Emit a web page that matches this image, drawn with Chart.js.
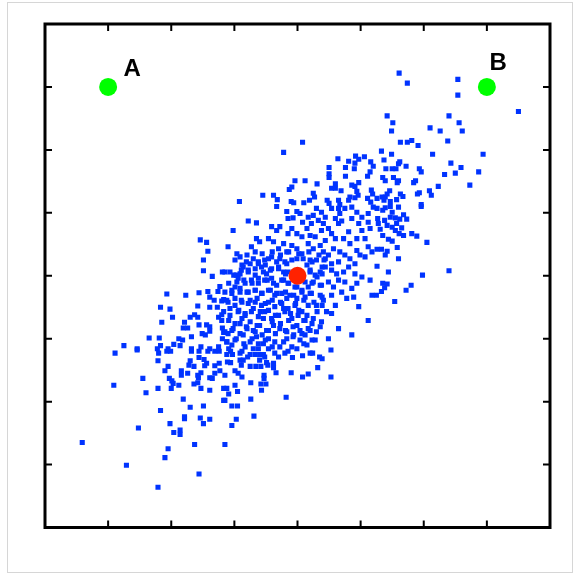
<!DOCTYPE html>
<html>
<head>
<meta charset="utf-8">
<script src="https://cdn.jsdelivr.net/npm/chart.js@4.4.1/dist/chart.umd.min.js"></script>
<style>
    html, body { margin: 0; padding: 0; background: #fff; }
    #wrap { position: relative; width: 574px; height: 573px; }
    #frame {
        position: absolute; left: 7px; top: 2px; width: 566px; height: 571px;
        border: 1px solid #d6d6d6; box-sizing: border-box; pointer-events: none;
    }
</style>
</head>
<body>
<div id="wrap">
    <canvas id="scatterChart"></canvas>
    <div id="frame"></div>
</div>
<script>
/* Correlated 2-D sample cloud with its mean (red) and two reference points A, B (green). */

// Sample cloud as [x, y] pairs.
var cloudPoints = [
    [0.08,2.12],[-0.22,1.96],[0.64,1.86],[0.81,1.82],[0.92,1.90],[0.97,1.85],[1.06,1.89],[1.16,1.81],[0.91,1.79],[1.20,1.74],
    [0.50,1.72],[0.76,1.72],[0.90,1.70],[1.15,1.65],[0.50,1.62],[0.50,1.56],[0.76,1.58],[1.11,1.58],[-0.04,1.51],[0.12,1.51],
    [0.31,1.46],[0.97,1.48],[0.60,1.46],[0.54,1.39],[0.60,1.39],[0.86,1.44],[0.91,1.42],[-0.09,1.41],[-0.13,1.37],[0.69,1.35],
    [0.94,1.34],[0.96,1.28],[1.17,1.36],[1.19,1.30],[0.25,1.31],[0.27,1.25],[-0.55,1.28],[-0.38,1.28],[-0.32,1.21],[-0.92,1.18],
    [-0.10,1.18],[-0.06,1.16],[0.10,1.16],[0.19,1.20],[0.47,1.20],[0.50,1.15],[0.65,1.20],[0.67,1.13],[0.83,1.25],[0.81,1.20],
    [1.11,1.23],[1.16,1.17],[0.91,1.24],
    [1.61,3.22],[1.74,3.06],[2.54,3.12],[2.54,2.87],[3.50,2.61],[1.42,2.54],[1.51,2.43],[1.49,2.30],[2.40,2.54],[2.56,2.43],
    [2.61,2.30],[2.10,2.35],[2.26,2.30],[2.38,2.14],[1.63,2.12],[1.74,2.12],[1.81,2.15],[1.91,2.07],[1.33,1.98],[1.49,1.93],
    [2.14,1.93],[2.94,1.93],[1.37,1.84],[1.62,1.81],[1.60,1.78],[1.72,1.74],[1.40,1.70],[1.50,1.70],[1.56,1.70],[1.93,1.70],
    [1.96,1.65],[2.43,1.79],[2.59,1.72],[2.50,1.63],[2.87,1.65],[2.33,1.61],[1.35,1.56],[1.39,1.51],[1.52,1.56],[1.60,1.51],
    [1.58,1.48],[1.87,1.51],[1.84,1.48],[2.73,1.44],[2.23,1.42],[1.46,1.35],[1.42,1.30],[1.39,1.25],[1.63,1.30],[1.67,1.26],
    [1.93,1.32],[1.90,1.30],[2.09,1.35],[2.12,1.28],[1.26,1.23],[1.34,1.25],[1.37,1.20],[1.47,1.18],[1.57,1.21],[1.96,1.13],
    [-1.54,0.57],[-1.44,0.53],[-1.42,0.39],[-1.49,0.25],[-1.49,0.08],[-1.35,-0.01],[-1.19,0.06],[-1.23,-0.17],[-1.26,-0.25],[-1.42,-0.25],
    [-1.56,-0.27],[-1.39,-0.34],[-1.32,-0.39],[-1.20,-0.40],[-1.17,-0.38],[-2.07,-0.29],[-1.77,-0.31],[-2.17,-0.50],[-2.02,-0.53],[-1.58,-0.48],
    [-1.39,-0.50],[-1.27,-0.50],[-1.98,-0.66],[-1.63,-0.62],[-1.70,-0.66],[-1.58,-0.66],[-1.20,-0.62],[-1.25,-0.66],[-1.20,-0.71],[-2.15,-0.74],
    [-1.79,-0.74],[-1.56,-0.78],[-1.44,-0.78],[-1.39,-0.81],[-1.39,-0.88],[-1.81,-0.83],[-1.74,-0.83],[-1.51,-0.92],[-1.46,-0.94],[-1.19,-0.83],
    [-1.17,-0.90],[-1.68,-0.97],[-1.88,-1.00],[-1.82,-1.02],[-2.35,-0.99],[-2.19,-0.99],[-1.96,-1.09],[-2.17,-1.11],[-2.75,-1.11],[-2.54,-1.16],
    [-1.86,-1.11],[-2.22,-1.16],[-2.05,-1.16],[-1.68,-1.16],[-1.53,-1.13],[-1.39,-1.16],[-1.25,-1.13],[-1.19,-1.00],
    [-2.89,-1.23],[-2.54,-1.18],[-2.21,-1.35],[-2.20,-1.23],[-2.07,-1.20],[-2.01,-1.20],[-2.05,-1.44],[-2.10,-1.51],[-1.70,-1.35],[-1.72,-1.42],
    [-1.64,-1.44],[-1.84,-1.51],[-1.84,-1.58],[-1.74,-1.55],[-1.56,-1.30],[-1.48,-1.33],[-1.44,-1.39],[-1.47,-1.43],[-1.68,-1.20],[-1.56,-1.20],
    [-1.42,-1.20],[-1.31,-1.20],[-1.24,-1.20],[-1.31,-1.43],[-1.24,-1.39],[-1.23,-1.51],[-1.31,-1.55],[-1.39,-1.62],[-1.35,-1.63],[-1.53,-1.54],
    [-1.58,-1.58],[-1.57,-1.62],[-2.45,-1.63],[-2.03,-1.63],[-1.99,-1.67],[-1.97,-1.71],[-1.88,-1.74],[-1.64,-1.72],[-1.58,-1.70],[-2.91,-1.74],
    [-2.21,-1.79],[-2.00,-1.79],[-1.53,-1.79],[-1.39,-1.82],[-1.17,-1.79],[-2.40,-1.86],[-1.81,-1.96],[-1.17,-1.98],[-1.70,-2.09],[-1.49,-2.07],
    [-2.17,-2.14],[-1.79,-2.24],[-1.79,-2.27],[-1.54,-2.26],[-1.39,-2.28],[-1.49,-2.35],[-2.02,-2.35],[-2.52,-2.42],[-1.96,-2.49],[-1.86,-2.45],
    [-1.86,-2.52],[-3.41,-2.65],[-1.63,-2.68],[-1.15,-2.68],[-2.05,-2.75],[-2.10,-2.89],[-2.71,-3.01],[-1.56,-3.15],[-2.21,-3.36],
    [-1.12,-1.25],[-1.06,-1.20],[-1.03,-1.25],[-0.91,-1.23],[-0.88,-1.20],[-0.79,-1.29],[-0.75,-1.25],[-0.67,-1.25],[-0.60,-1.25],[-0.54,-1.25],
    [-0.52,-1.29],[-0.36,-1.23],[-0.30,-1.29],[-0.20,-1.23],[-0.15,-1.20],[-0.08,-1.30],[0.08,-1.27],[0.20,-1.23],[0.24,-1.23],[0.35,-1.29],
    [0.39,-1.32],[0.53,-1.18],[-1.11,-1.37],[-1.06,-1.38],[-0.91,-1.34],[-0.86,-1.34],[-0.89,-1.42],[-0.75,-1.44],[-0.66,-1.44],[-0.58,-1.44],
    [-0.60,-1.34],[-0.49,-1.38],[-0.47,-1.42],[-0.38,-1.39],[-0.38,-1.46],[-0.34,-1.54],[-1.15,-1.58],[-0.99,-1.51],[-0.94,-1.55],[-0.88,-1.61],
    [-0.53,-1.58],[-0.53,-1.63],[-0.58,-1.72],[-0.50,-1.72],[-0.74,-1.70],[-0.10,-1.54],[0.08,-1.61],[0.17,-1.56],[0.32,-1.46],[0.53,-1.61],
    [-1.12,-1.79],[-0.99,-1.74],[-1.09,-1.88],[-0.95,-1.84],[-1.15,-1.98],[-0.57,-1.82],[-0.74,-1.96],[-0.18,-1.93],[-1.04,-2.07],[-0.95,-2.07],
    [-0.69,-2.23],[-0.97,-2.28],[-1.04,-2.38],
    [1.26,1.07],[1.39,1.08],[1.47,1.10],[1.60,1.09],[1.50,1.01],[1.96,1.10],[1.35,1.04],[1.27,0.91],[1.28,0.83],[1.31,0.74],
    [1.38,0.88],[1.47,0.93],[1.55,0.92],[1.62,0.90],[1.73,0.90],[1.68,0.97],[1.57,0.83],[1.65,0.76],[1.42,0.80],[1.50,0.77],
    [1.55,0.72],[1.61,0.67],[1.68,0.64],[1.81,0.67],[1.89,0.63],[2.05,0.53],[1.35,0.64],[1.44,0.58],[1.50,0.55],[1.58,0.45],
    [1.26,0.42],[1.33,0.42],[1.42,0.39],[1.39,0.33],[1.60,0.27],[1.26,0.15],[1.44,0.06],[1.98,0.01],[2.40,0.08],[1.35,-0.12],
    [1.42,-0.13],[1.38,-0.19],[1.33,-0.25],[1.25,-0.31],[1.80,-0.15],[1.72,-0.23],[1.54,-0.41],
    [-0.33,1.10],[-0.17,1.02],[-0.01,1.02],[-0.15,0.91],[-0.07,0.92],[0.04,0.99],[0.08,0.85],[0.17,0.93],[0.25,0.96],[0.30,1.07],
    [0.38,1.01],[0.44,0.93],[0.54,1.07],[0.65,1.07],[0.67,0.99],[0.75,1.07],[0.86,1.09],[0.94,1.01],[1.02,0.93],[1.12,0.99],
    [1.20,1.09],[0.60,0.91],[0.41,0.83],[0.33,0.88],[0.22,0.83],[0.15,0.75],[0.65,0.83],[0.70,0.87],[0.86,0.91],[0.97,0.83],
    [1.12,0.85],[1.15,0.75],[1.02,0.72],[-0.78,0.87],[-0.65,0.84],[-1.02,0.72],[-0.33,0.72],[-0.28,0.78],[-0.41,0.78],[-0.09,0.75],
    [-0.15,0.67],[-0.01,0.67],[0.07,0.62],[0.20,0.64],[0.28,0.62],[0.38,0.72],[0.49,0.75],[0.54,0.67],[0.81,0.70],[0.94,0.59],
    [1.07,0.59],[1.12,0.46],[0.44,0.56],[0.60,0.59],[0.73,0.59],[0.83,0.51],[0.94,0.40],[0.99,0.33],[1.07,0.30],[1.18,0.38],
    [-1.10,0.46],[-0.73,0.46],[-0.65,0.59],[-0.60,0.54],[-0.46,0.59],[-0.38,0.54],[-0.30,0.43],[-0.22,0.51],[-0.17,0.38],[-0.09,0.48],
    [-0.01,0.43],[0.07,0.35],[0.17,0.51],[0.25,0.43],[0.36,0.48],[0.41,0.38],[0.49,0.33],[0.57,0.43],[0.67,0.38],[0.75,0.33],
    [0.83,0.27],[0.91,0.19],[0.65,0.22],[0.54,0.19],[0.44,0.27],[0.30,0.25],[0.20,0.25],[0.15,0.17],[0.09,0.27],[-0.01,0.27],
    [-0.09,0.25],[-0.20,0.22],[-0.28,0.27],[-0.41,0.30],[-0.52,0.25],[-0.62,0.19],[-0.70,0.27],[-0.81,0.22],[-0.86,0.14],[-0.91,0.30],
    [-0.99,0.25],[-1.07,0.06],[-0.97,0.01],[-0.89,0.09],[-0.78,0.06],[-0.67,0.11],[-0.57,0.14],[-0.49,0.03],[-0.41,0.11],[-0.30,0.14],
    [-0.22,0.06],[-0.15,0.06],[0.20,0.09],[0.28,0.01],[0.36,0.06],[0.44,0.14],[0.54,0.09],[0.62,0.03],[0.73,0.06],[0.81,0.14],
    [0.91,0.03],[1.02,-0.02],[1.15,-0.07],[1.18,-0.31],[0.94,-0.12],[0.86,-0.20],[0.75,-0.10],[0.65,-0.07],[0.57,-0.18],[0.49,-0.10],
    [0.38,-0.15],[0.25,-0.10],[0.17,-0.18],[0.07,-0.23],[-0.04,-0.18],[-0.15,-0.12],[-0.22,-0.07],[-0.33,-0.15],[-0.41,-0.04],[-0.52,-0.07],
    [-0.62,-0.12],[-0.73,-0.07],[-0.83,-0.12],[-0.94,-0.04],[-0.99,-0.18],[-1.04,-0.28],[-0.91,-0.26],[-0.78,-0.26],[-0.67,-0.23],[-0.57,-0.28],
    [-0.46,-0.23],[-0.36,-0.31],[-0.25,-0.28],[-0.12,-0.31],[-0.01,-0.36],[0.12,-0.34],[0.22,-0.28],[0.36,-0.31],[0.41,-0.39],[0.54,-0.31],
    [0.70,-0.26],[0.78,-0.36],[0.89,-0.34],[0.97,-0.49],[1.12,-0.71],[0.60,-0.47],[0.46,-0.57],[0.30,-0.47],[0.17,-0.47],[0.07,-0.57],
    [-0.04,-0.47],[-0.15,-0.52],[-0.25,-0.44],[-0.36,-0.49],[-0.46,-0.42],[-0.57,-0.47],[-0.67,-0.42],[-0.78,-0.44],[-0.89,-0.39],[-0.99,-0.47],
    [-1.10,-0.42],[-1.07,-0.63],[-0.94,-0.57],[-0.83,-0.63],[-0.73,-0.57],[-0.62,-0.65],[-0.52,-0.57],[-0.41,-0.68],[-0.30,-0.63],[-0.20,-0.57],
    [-0.09,-0.68],[0.01,-0.63],[0.12,-0.71],[0.25,-0.68],[0.38,-0.73],[0.54,-0.60],[0.65,-0.84],[0.86,-0.94],[0.49,-1.00],[0.30,-0.89],
    [0.17,-0.84],[0.04,-0.87],[-0.07,-0.81],[-0.17,-0.89],[-0.28,-0.84],[-0.38,-0.79],[-0.49,-0.87],[-0.60,-0.79],[-0.70,-0.87],[-0.81,-0.81],
    [-0.91,-0.76],[-1.02,-0.84],[-1.10,-0.92],[-0.97,-1.00],[-0.86,-0.94],[-0.75,-1.05],[-0.65,-0.97],[-0.54,-1.08],[-0.46,-1.00],[-0.36,-1.05],
    [-0.28,-1.13],[-0.17,-1.00],[-0.07,-0.97],[0.04,-1.02],[0.12,-0.94],[-0.01,-1.16],[0.15,-1.10],[0.28,-1.02],[-0.46,-1.16],[-0.62,-1.16],
    [-0.83,-1.13],[-1.04,-1.10],[-1.12,-1.05],
    // dense core, read from a closer look
    [-0.96,0.35],[-0.80,0.33],[-0.67,0.38],[-0.56,0.35],[-0.40,0.38],[-0.27,0.33],[-0.14,0.38],[0.02,0.35],[0.18,0.38],[0.34,0.33],
    [0.42,0.25],[-0.46,0.27],[-0.33,0.22],[-0.88,0.17],[-0.75,0.19],[-0.62,0.22],[-0.51,0.17],[-0.17,0.19],[0.23,0.22],[0.39,0.14],
    [-1.15,0.06],[-1.01,0.01],[-0.91,0.03],[-0.78,0.09],[-0.67,0.01],[-0.54,0.06],[-0.43,0.09],[-0.30,0.11],[-0.19,0.03],[0.20,0.06],
    [0.31,-0.02],[0.39,0.03],
    [-1.09,-0.12],[-0.96,-0.10],[-0.85,-0.07],[-0.72,-0.12],[-0.62,-0.04],[-0.48,-0.07],[-0.38,-0.12],[-0.25,-0.07],[-0.14,-0.12],[-0.01,-0.18],
    [0.12,-0.10],[0.23,-0.12],[0.36,-0.15],
    [-1.15,-0.26],[-1.04,-0.23],[-0.91,-0.20],[-0.80,-0.26],[-0.67,-0.23],[-0.56,-0.28],[-0.43,-0.23],[-0.33,-0.28],[-0.19,-0.26],[-0.06,-0.31],
    [0.07,-0.26],[0.20,-0.28],[0.39,-0.34],
    [-1.12,-0.39],[-0.99,-0.36],[-0.88,-0.42],[-0.75,-0.39],[-0.64,-0.36],[-0.51,-0.44],[-0.40,-0.39],[-0.27,-0.42],[-0.17,-0.36],[-0.03,-0.44],
    [0.10,-0.39],[0.26,-0.42],[0.39,-0.47],
    [-1.17,-0.57],[-1.07,-0.52],[-0.93,-0.55],[-0.83,-0.60],[-0.70,-0.52],[-0.59,-0.57],[-0.46,-0.55],[-0.35,-0.63],[-0.22,-0.52],[-0.11,-0.60],
    [0.02,-0.55],[0.15,-0.63],[0.31,-0.57],
    [-1.09,-0.71],[-0.99,-0.76],[-0.88,-0.68],[-0.75,-0.73],[-0.64,-0.79],[-0.54,-0.68],[-0.40,-0.73],[-0.27,-0.76],[-0.14,-0.71],[-0.01,-0.79],
    [0.10,-0.71],[0.23,-0.76],[0.36,-0.81],
    [-1.15,-0.89],[-1.04,-0.87],[-0.91,-0.92],[-0.80,-0.84],[-0.67,-0.89],[-0.56,-0.94],[-0.46,-0.87],[-0.35,-0.92],[-0.19,-0.87],[-0.06,-0.94],
    [0.07,-0.92],[0.20,-0.87],
    [-1.12,-1.05],[-0.99,-1.02],[-0.85,-1.08],[-0.72,-1.00],[-0.62,-1.08],[-0.51,-1.02],[-0.40,-1.13],[-0.22,-1.05],[-0.09,-1.13],[0.10,-1.08],
    [0.23,-1.02],[-1.09,-1.16],[-0.70,-1.16]
];

// Mean of the cloud.
var meanX = [0];
var meanY = [0];

// Reference points and their letters.
var refX = [-3, 3];
var refY = [3, 3];
var refNames = ["A", "B"];
var refNameX = [-2.62, 3.18];
var refNameY = [3.28, 3.38];

// Axis range and tick marks (no tick labels are shown).
var axisMin = -4;
var axisMax = 4;
var tickValues = [-3, -2, -1, 0, 1, 2, 3];

document.addEventListener("DOMContentLoaded", function () {
    var canvas = document.getElementById("scatterChart");
    if (!canvas) return;

    function toXY(xs, ys) {
        return xs.map(function (x, i) {
            return { x: x, y: ys[i] };
        });
    }

    // Box with inward ticks on all four sides, plus the A / B letters.
    var boxPlugin = {
        id: "boxFrame",
        afterDatasetsDraw: function (chart) {
            var ctx = chart.ctx;
            var a = chart.chartArea;
            var xs = chart.scales.x;
            var ys = chart.scales.y;
            var len = 7;

            ctx.save();
            ctx.strokeStyle = "#000";
            ctx.lineWidth = 2;
            ctx.beginPath();
            tickValues.forEach(function (v) {
                var px = xs.getPixelForValue(v);
                var py = ys.getPixelForValue(v);
                ctx.moveTo(px, a.top); ctx.lineTo(px, a.top + len);
                ctx.moveTo(px, a.bottom); ctx.lineTo(px, a.bottom - len);
                ctx.moveTo(a.left, py); ctx.lineTo(a.left + len, py);
                ctx.moveTo(a.right, py); ctx.lineTo(a.right - len, py);
            });
            ctx.stroke();

            ctx.lineWidth = 3;
            ctx.strokeRect(a.left, a.top, a.right - a.left, a.bottom - a.top);

            ctx.fillStyle = "#000";
            ctx.font = "bold 24px 'Liberation Sans', Arial, sans-serif";
            ctx.textAlign = "center";
            ctx.textBaseline = "middle";
            refNames.forEach(function (name, i) {
                ctx.fillText(name, xs.getPixelForValue(refNameX[i]), ys.getPixelForValue(refNameY[i]));
            });
            ctx.restore();
        }
    };

    new Chart(canvas, {
        type: "scatter",
        data: {
            datasets: [
                {
                    label: "Mean",
                    data: toXY(meanX, meanY),
                    pointStyle: "circle",
                    pointRadius: 9,
                    backgroundColor: "#ff2200",
                    borderColor: "#ff2200",
                    borderWidth: 0
                },
                {
                    label: "Reference",
                    data: toXY(refX, refY),
                    pointStyle: "circle",
                    pointRadius: 9,
                    backgroundColor: "#00ff00",
                    borderColor: "#00ff00",
                    borderWidth: 0
                },
                {
                    label: "Samples",
                    data: cloudPoints.map(function (p) {
                        return { x: p[0], y: p[1] };
                    }),
                    pointStyle: "rect",
                    pointRadius: 3.6,
                    backgroundColor: "#0033ff",
                    borderColor: "#0033ff",
                    borderWidth: 0
                }
            ]
        },
        options: {
            responsive: true,
            maintainAspectRatio: false,
            animation: false,
            layout: { padding: { left: 45, top: 24, right: 24, bottom: 45.5 } },
            plugins: {
                legend: { display: false },
                tooltip: { enabled: false }
            },
            scales: {
                x: { type: "linear", min: axisMin, max: axisMax, display: false },
                y: { type: "linear", min: axisMin, max: axisMax, display: false }
            }
        },
        plugins: [boxPlugin]
    });
});
</script>
</body>
</html>
